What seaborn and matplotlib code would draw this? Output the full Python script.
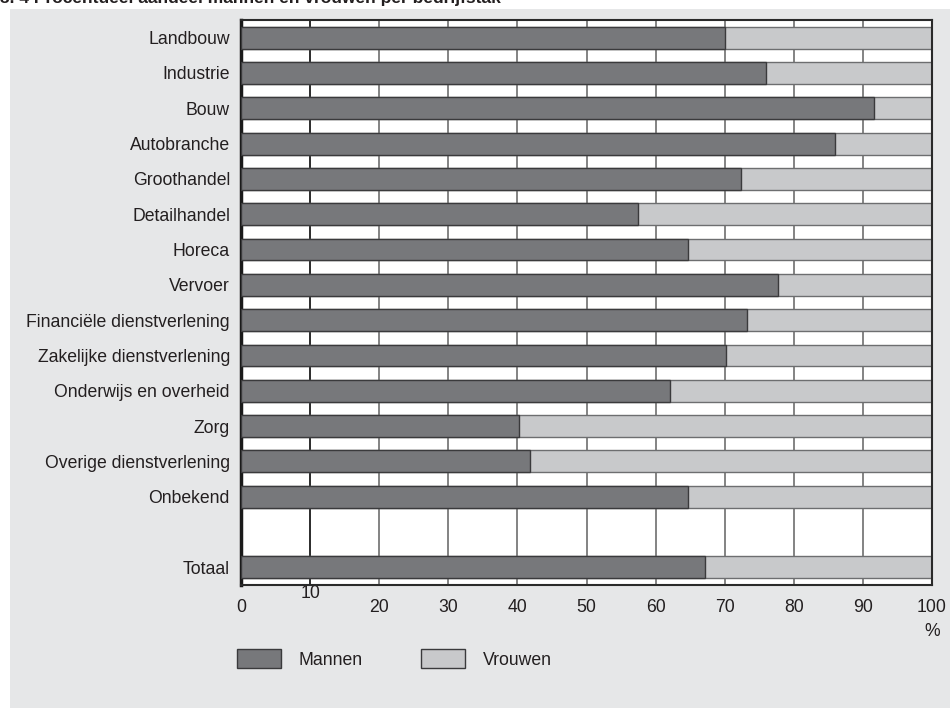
import matplotlib
matplotlib.use("Agg")
import matplotlib.pyplot as plt
from matplotlib.patches import Rectangle, Patch
import seaborn as sns
import pandas as pd

# data (share of men, in %)
sectoren = ["Landbouw", "Industrie", "Bouw", "Autobranche", "Groothandel",
            "Detailhandel", "Horeca", "Vervoer", "Financiële dienstverlening",
            "Zakelijke dienstverlening", "Onderwijs en overheid", "Zorg",
            "Overige dienstverlening", "Onbekend", "Totaal"]
mannen = [70.0, 76.0, 91.6, 86.0, 72.4, 57.5, 64.7, 77.7, 73.2,
          70.2, 62.1, 40.2, 41.8, 64.7, 67.1]
vrouwen = [100 - m for m in mannen]
xticks = [0, 10, 20, 30, 40, 50, 60, 70, 80, 90, 100]

KLEUR_M = "#77787b"
KLEUR_V = "#c8c9cb"
ACHTERGROND = "#e6e7e8"
TEKST = "#231f20"

df = pd.DataFrame({"sector": sectoren, "mannen": mannen, "vrouwen": vrouwen})
df["totaal"] = df["mannen"] + df["vrouwen"]
volgorde = sectoren[:-1] + [" "] + ["Totaal"]

sns.set_theme(style="white")
plt.rcParams["font.family"] = ["Liberation Sans", "DejaVu Sans"]

fig = plt.figure(figsize=(9.5, 7.08), dpi=100)
fig.patch.set_facecolor("white")
fig.patches.append(Rectangle((10 / 950, 0), 1, 1 - 9 / 708, transform=fig.transFigure,
                             facecolor=ACHTERGROND, edgecolor="none", zorder=-10))
fig.text(0.0, 1.0 + 2 / 708, "3. 4 Procentueel aandeel mannen en vrouwen per bedrijfstak",
         fontsize=12.5, fontweight="bold", color=TEKST, ha="left", va="center")

ax = fig.add_axes([241 / 950, 1 - 585 / 708, 691 / 950, 565 / 708])
ax.set_facecolor("white")

# vertical grid lines
for x in xticks[1:-1]:
    ax.axvline(x, color="#1a1a1a" if x == 10 else "#7a7a7a", lw=1.3, zorder=0)

sns.barplot(data=df, x="totaal", y="sector", order=volgorde, color=KLEUR_V,
            width=0.62, edgecolor="#6d6e70", linewidth=1.0, saturation=1,
            errorbar=None, ax=ax, zorder=2)
sns.barplot(data=df, x="mannen", y="sector", order=volgorde, color=KLEUR_M,
            width=0.62, edgecolor="#3a3a3c", linewidth=1.0, saturation=1,
            errorbar=None, ax=ax, zorder=3)

ax.set_xlim(0, 100)
ax.set_ylim(len(volgorde) - 0.5, -0.5)
ax.set_xticks(xticks)
ax.set_xticklabels([str(t) for t in xticks])
ax.set_xlabel("")
ax.set_ylabel("")
ax.tick_params(axis="both", length=0, labelsize=12.7, colors=TEKST)
ax.tick_params(axis="x", pad=10)
ax.tick_params(axis="y", pad=8)
# the "10" label sits higher in the reference
ax.xaxis.get_major_ticks()[1].set_pad(0)

for kant in ["top", "right", "bottom"]:
    ax.spines[kant].set_color("#2a2a2a")
    ax.spines[kant].set_linewidth(1.5)
ax.spines["left"].set_color("#1a1a1a")
ax.spines["left"].set_linewidth(2.5)

fig.text(932 / 950, 1 - 632 / 708, "%", fontsize=12.7, color=TEKST,
         ha="center", va="center")

handles = [Patch(facecolor=KLEUR_M, edgecolor="#3a3a3c", label="Mannen"),
           Patch(facecolor=KLEUR_V, edgecolor="#3a3a3c", label="Vrouwen")]
fig.legend(handles=handles, loc="center left", bbox_to_anchor=(237 / 950, 1 - 659 / 708),
           ncol=2, frameon=False, fontsize=12.7, handlelength=2.5, handleheight=1.3,
           handletextpad=1.0, columnspacing=3.3, borderpad=0, borderaxespad=0,
           labelcolor=TEKST)

fig.savefig("out.png", dpi=100)
